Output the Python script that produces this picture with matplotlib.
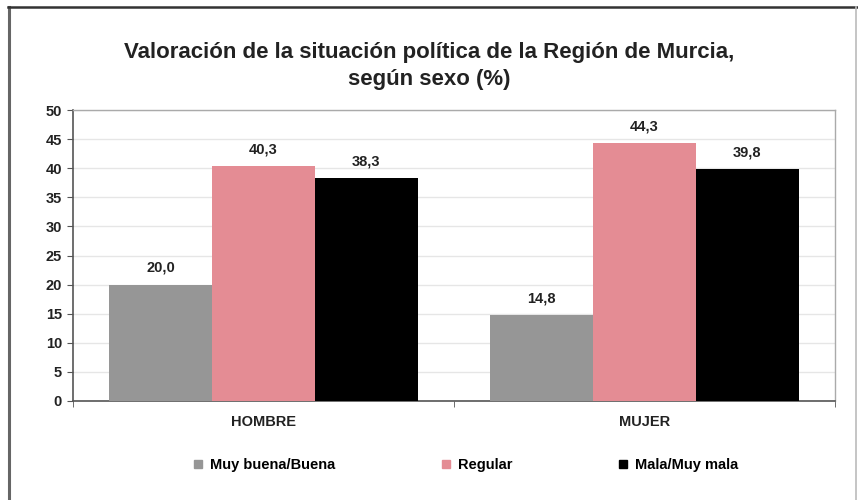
import matplotlib
matplotlib.use("Agg")
import matplotlib.pyplot as plt
from matplotlib.lines import Line2D
import numpy as np

plt.rcParams['font.family'] = ['Liberation Sans', 'DejaVu Sans']
plt.rcParams['font.weight'] = 'bold'

categories = ["HOMBRE", "MUJER"]
series_names = ["Muy buena/Buena", "Regular", "Mala/Muy mala"]
muy_buena = [20.0, 14.8]
regular = [40.3, 44.3]
mala = [38.3, 39.8]
colors = ["#969696", "#E48C94", "#000000"]
yticks = list(range(0, 55, 5))

fig = plt.figure(figsize=(8.58, 5.0), dpi=100)
ax = fig.add_axes([73/858, 99/500, (835-73)/858, (401-110)/500])

x = np.arange(len(categories))
w = 0.27
for i, (vals, col, name) in enumerate(zip([muy_buena, regular, mala], colors, series_names)):
    bars = ax.bar(x + (i-1)*w, vals, w, color=col, label=name, zorder=3)
    ax.bar_label(bars, labels=[f"{v:.1f}".replace('.', ',') for v in vals],
                 padding=7, fontsize=10.5, fontweight='bold', color='#222222')

ax.set_xlim(-0.5, 1.5)
ax.set_ylim(0, 50)
ax.set_yticks(yticks)
ax.set_yticklabels([str(t) for t in yticks], fontsize=10.5, fontweight='bold', color='#222222')
ax.set_xticks(x)
ax.set_xticklabels(categories, fontsize=10.5, fontweight='bold', color='#222222')
ax.tick_params(axis='x', which='major', length=0, pad=10)
ax.set_xticks([-0.5, 0.5, 1.5], minor=True)
ax.tick_params(axis='x', which='minor', length=4, color='#555555')
ax.tick_params(axis='y', length=4, color='#555555', pad=4)
ax.yaxis.grid(True, color='#e6e6e6', lw=1, zorder=0)
for s in ['left', 'bottom']:
    ax.spines[s].set_color('#555555')
    ax.spines[s].set_linewidth(1.2)
for s in ['top', 'right']:
    ax.spines[s].set_color('#aaaaaa')
    ax.spines[s].set_linewidth(1.0)

fig.text(0.5, (500-66)/500, "Valoración de la situación política de la Región de Murcia,\nsegún sexo (%)",
         ha='center', va='center', fontsize=16, fontweight='bold', color='#222222',
         linespacing=1.4)

handles = [Line2D([0], [0], marker='s', ls='none', color=c, markersize=6) for c in colors]
fig.legend(handles, series_names, loc='center', bbox_to_anchor=(466/858, (500-465)/500),
           ncol=3, frameon=False, handlelength=0.6, handletextpad=0.5,
           columnspacing=7.3, prop={'weight': 'bold', 'size': 10.5})

# figure border
fig.add_artist(Line2D([9/858, 9/858], [0, 493/500], color='#666666', lw=2.2))
fig.add_artist(Line2D([8/858, 1], [493/500, 493/500], color='#333333', lw=1.8))
fig.add_artist(Line2D([856/858, 856/858], [0, 493/500], color='#bbbbbb', lw=1.2))

fig.savefig("out.png", dpi=100, facecolor='white')
